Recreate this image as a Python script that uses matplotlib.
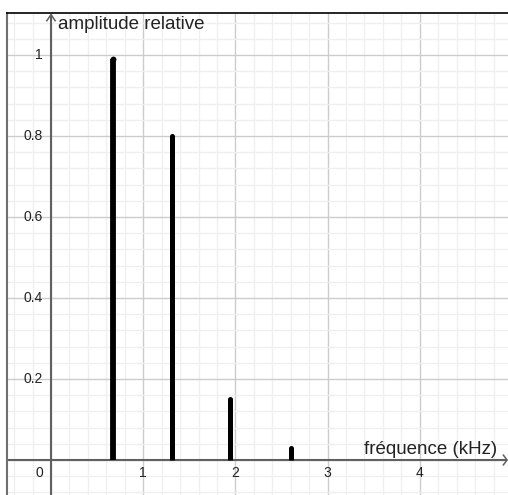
import matplotlib
matplotlib.use("Agg")
import matplotlib.pyplot as plt
import numpy as np
from matplotlib.ticker import MultipleLocator

plt.rcParams['font.family'] = ['Liberation Sans', 'DejaVu Sans']

# Data
freqs = [0.675, 1.31, 1.94, 2.60]          # kHz
amps = [0.99, 0.80, 0.15, 0.03]            # relative amplitude
x_ticks = [1, 2, 3, 4]
y_ticks = [0.2, 0.4, 0.6, 0.8, 1.0]
y_tick_labels = ["0.2", "0.4", "0.6", "0.8", "1"]
xlabel = "fréquence (kHz)"
ylabel = "amplitude relative"

W, H = 508, 495
fig = plt.figure(figsize=(W / 100, H / 100), dpi=100)
ax = fig.add_axes([7 / W, 0, (W - 7) / W, (H - 13) / H])

x0px, sx = 51.0, 92.2
y0px, sy = 460.0, 405.0
ax.set_xlim((7 - x0px) / sx, (W - x0px) / sx)
ax.set_ylim(-(H - y0px) / sy, (y0px - 13) / sy)

ax.xaxis.set_major_locator(MultipleLocator(1))
ax.xaxis.set_minor_locator(MultipleLocator(0.2))
ax.yaxis.set_major_locator(MultipleLocator(0.2))
ax.yaxis.set_minor_locator(MultipleLocator(0.04))
ax.grid(which='minor', color='#efefef', linewidth=0.9, zorder=0)
ax.grid(which='major', color='#cccccc', linewidth=1.0, zorder=0.5)
ax.tick_params(which='both', length=0, labelbottom=False, labelleft=False)
ax.set_axisbelow(True)

for s in ['right', 'bottom']:
    ax.spines[s].set_visible(False)
ax.spines['top'].set_color('black')
ax.spines['top'].set_linewidth(1.2)
ax.spines['left'].set_color('#707070')
ax.spines['left'].set_linewidth(1.5)

# axes lines
xmin, xmax = ax.get_xlim()
ymin, ymax = ax.get_ylim()
axis_col = '#606060'
ax.plot([xmin, xmax - 0.01], [0, 0], color=axis_col, lw=1.5, zorder=2, solid_capstyle='butt')
ax.plot([0, 0], [ymin, ymax - 0.004], color=axis_col, lw=1.5, zorder=2, solid_capstyle='butt')
# arrows
ay = ymax - 0.004
ax.plot([-0.045, 0, 0.045], [ay - 0.015, ay, ay - 0.015], color=axis_col, lw=1.1, zorder=2)
axx = xmax - 0.01
ax.plot([axx - 0.04, axx, axx - 0.04], [0.012, 0, -0.012], color=axis_col, lw=1.1, zorder=2,
        clip_on=False)

# spectrum lines (flat at the axis, rounded at the top)
lws = [4.2, 3.6, 3.6, 3.6]
ax.vlines(freqs, 0, amps, colors='black', linewidths=lws, capstyle='butt', zorder=3)
for f, a, lw in zip(freqs, amps, lws):
    ax.plot([f], [a], marker='o', markersize=lw, color='black', markeredgewidth=0, zorder=3)

# tick labels
for xt in x_ticks:
    ax.text(xt, -13 / sy, str(xt), ha='center', va='center', fontsize=10, color='#222222',
            zorder=4)
ax.text(-12 / sx, -13 / sy, "0", ha='center', va='center', fontsize=10, color='#222222', zorder=4)
for yt, lab in zip(y_ticks, y_tick_labels):
    ax.text(-8 / sx, yt, lab, ha='right', va='center', fontsize=10, color='#222222')

ax.text(7 / sx, (y0px - 25) / sy, ylabel, ha='left', va='center', fontsize=13.5, color='#222222')
ax.text((W - 11 - x0px) / sx, 10 / sy, xlabel, ha='right', va='center', fontsize=13.5,
        color='#222222')

fig.savefig("out.png", dpi=100)
